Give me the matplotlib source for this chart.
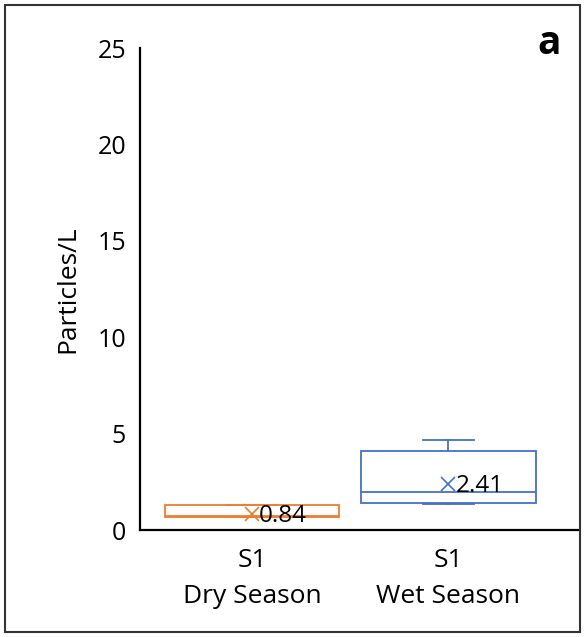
import matplotlib.pyplot as plt
from matplotlib.patches import Rectangle

# box statistics
seasons = ["S1\nDry Season", "S1\nWet Season"]
whislo = [0.66, 1.33]
q1 = [0.66, 1.39]
med = [0.74, 1.98]
q3 = [1.30, 4.11]
whishi = [1.30, 4.65]
means = [0.84, 2.41]
colors = ["#ED7D31", "#4472C4"]

plt.rcParams['font.family'] = ['Open Sans', 'DejaVu Sans']

fig = plt.figure(figsize=(5.86, 6.37), dpi=100)
ax = fig.add_axes([140/586, 1 - 530/637, 438/586, 482/637])

stats = []
for i in range(len(seasons)):
    stats.append({"whislo": whislo[i], "q1": q1[i], "med": med[i], "q3": q3[i],
                  "whishi": whishi[i], "mean": means[i], "label": seasons[i]})

pos = [1, 2]
for i, s in enumerate(stats):
    c = colors[i]
    ax.bxp([s], positions=[pos[i]], widths=0.89, capwidths=0.26,
           showmeans=True, showfliers=False, patch_artist=True,
           boxprops=dict(facecolor="white", edgecolor=c, linewidth=1.3),
           medianprops=dict(color=c, linewidth=1.3),
           whiskerprops=dict(color=c, linewidth=1.3),
           capprops=dict(color=c, linewidth=1.3),
           meanprops=dict(marker="x", markeredgecolor=c, markersize=10, markeredgewidth=1.2))
    ax.annotate(f"{means[i]:.2f}", (pos[i], means[i]), xytext=(5, -1.5),
                textcoords="offset points", ha="left", va="center",
                fontsize=17.5, color="black")

ax.set_xlim(0.43, 2.66)
ax.set_ylim(0, 25)
ax.set_yticks([0, 5, 10, 15, 20, 25])
ax.set_xticks(pos)
ax.set_xticklabels(seasons, linespacing=1.55)
ax.tick_params(axis="both", length=0, labelsize=18, pad=10)
ax.tick_params(axis="x", labelsize=19, pad=13)
for sp in ["top", "right"]:
    ax.spines[sp].set_visible(False)
ax.spines["left"].set_linewidth(1.6)
ax.spines["bottom"].set_linewidth(1.6)
ax.set_ylabel("Particles/L", fontsize=19, labelpad=12)

fig.text(549/586, 1 - 44/637, "a", fontsize=28, fontweight="bold", ha="center", va="center")
fig.patches.append(Rectangle((5/586, 5/637), 575/586, 627/637, transform=fig.transFigure,
                             fill=False, edgecolor="#333333", linewidth=1.5))

fig.savefig("out.png", dpi=100)
